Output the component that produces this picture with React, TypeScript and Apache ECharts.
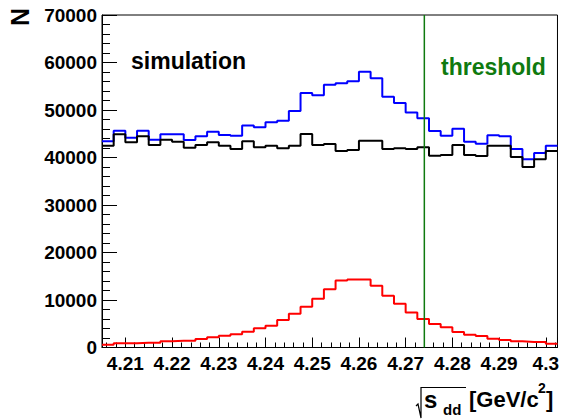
import React, { useEffect, useRef } from "react";
import * as echarts from "echarts";

// Histogram binning (39 bins of 0.0025 GeV/c^2 from 4.205)
const X_MIN = 4.205;
const X_MAX = 4.3025;
const BIN_WIDTH = 0.0025;
const THRESHOLD = 4.274;

const yTicks = [0, 10000, 20000, 30000, 40000, 50000, 60000, 70000];

const blueCounts = [
  43400, 45640, 44160, 45640, 43740, 44880, 44880, 43680, 44460, 45430,
  44730, 44580, 46730, 46350, 47410, 47740, 49780, 53570, 53090, 55320,
  55610, 56040, 58060, 56670, 52790, 51470, 49470, 48250, 45570, 44580,
  46060, 43320, 42900, 44670, 44460, 41780, 39620, 40940, 42480,
];

const blackCounts = [
  42480, 44880, 43190, 44460, 42630, 43740, 43320, 42060, 42630, 43190,
  42480, 41780, 43400, 42140, 42480, 41930, 42480, 44940, 42630, 42840,
  41360, 41570, 43530, 43530, 41780, 41930, 41780, 42140, 40370, 40520,
  42630, 40520, 40310, 42480, 42480, 40100, 37990, 39620, 41360,
];

const redCounts = [
  560, 880, 880, 1010, 1010, 1300, 1430, 1430, 1790, 2150,
  2490, 2780, 3300, 4040, 4590, 5790, 7120, 8590, 10270, 12250,
  14120, 14300, 14300, 12980, 10900, 9200, 7350, 6000, 4950, 4250,
  3260, 2700, 2420, 1850, 1580, 1300, 1160, 1160, 800,
];

function stepPoints(counts: number[]): [number, number][] {
  const pts: [number, number][] = [];
  counts.forEach((c, i) => {
    const lo = X_MIN + i * BIN_WIDTH;
    const hi = X_MIN + (i + 1) * BIN_WIDTH;
    pts.push([lo, c]);
    pts.push([hi, c]);
  });
  return pts;
}

const FONT = "'Liberation Sans', Arial, Helvetica, sans-serif";
const GREEN = "#0f7a0f";

export default function App() {
  const ref = useRef<HTMLDivElement>(null);
  useEffect(() => {
    if (!ref.current) return;
    const chart = echarts.init(ref.current, undefined, { renderer: "svg" });
    const lineSeries = (name: string, counts: number[], color: string) => ({
      name,
      type: "line",
      data: stepPoints(counts),
      showSymbol: false,
      symbol: "none",
      lineStyle: { color, width: 2 },
      itemStyle: { color },
      z: 3,
    });
    chart.setOption({
      animation: false,
      backgroundColor: "#ffffff",
      grid: {
        left: 102,
        right: 3,
        top: 15,
        bottom: 71.5,
        show: true,
        borderColor: "#000",
        borderWidth: 1,
        backgroundColor: "transparent",
      },
      xAxis: {
        type: "value",
        min: X_MIN,
        max: X_MAX,
        splitNumber: 10,
        axisLine: { show: true, lineStyle: { color: "#000", width: 1 } },
        axisTick: { show: true, inside: true, length: 10, lineStyle: { color: "#000" } },
        minorTick: { show: true, splitNumber: 5, length: 5, lineStyle: { color: "#000" } },
        splitLine: { show: false },
        axisLabel: {
          showMinLabel: false,
          showMaxLabel: false,
          margin: 6,
          color: "#000",
          fontFamily: FONT,
          fontWeight: "bold",
          fontSize: 19,
          formatter: (v: number) => String(Math.round(v * 100) / 100),
        },
      },
      yAxis: {
        type: "value",
        min: yTicks[0],
        max: yTicks[yTicks.length - 1],
        interval: yTicks[1] - yTicks[0],
        axisLine: { show: true, lineStyle: { color: "#000", width: 1 } },
        axisTick: { show: true, inside: true, length: 15, lineStyle: { color: "#000" } },
        minorTick: { show: true, splitNumber: 5, length: 8, lineStyle: { color: "#000" } },
        splitLine: { show: false },
        axisLabel: {
          margin: 5,
          color: "#000",
          fontFamily: FONT,
          fontWeight: "bold",
          fontSize: 19,
          formatter: (v: number) => String(v),
        },
      },
      series: [
        lineSeries("no cut", blueCounts, "#0000ff"),
        lineSeries("cut", blackCounts, "#000000"),
        lineSeries("signal", redCounts, "#ff0000"),
        {
          name: "threshold",
          type: "line",
          data: [
            [THRESHOLD, yTicks[0]],
            [THRESHOLD, yTicks[yTicks.length - 1]],
          ],
          showSymbol: false,
          symbol: "none",
          lineStyle: { color: GREEN, width: 1.5 },
          z: 4,
        },
      ],
      graphic: [
        {
          type: "text",
          x: 20,
          y: 17,
          rotation: Math.PI / 2,
          style: {
            text: "N",
            fill: "#000",
            font: `bold 25px ${FONT}`,
            align: "center",
            verticalAlign: "middle",
          },
        },
        {
          type: "text",
          x: 131,
          y: 61,
          style: {
            text: "simulation",
            fill: "#000",
            font: `bold 23px ${FONT}`,
            align: "left",
            verticalAlign: "middle",
          },
        },
        {
          type: "text",
          x: 441,
          y: 67,
          style: {
            text: "threshold",
            fill: GREEN,
            font: `bold 23px ${FONT}`,
            align: "left",
            verticalAlign: "middle",
          },
        },
        // x-axis title: sqrt(s_dd) [GeV/c^2]
        {
          type: "polyline",
          shape: {
            points: [
              [416, 406],
              [418, 404],
              [421, 418],
              [421, 387.5],
              [466, 387.5],
            ],
          },
          style: { stroke: "#000", lineWidth: 1.2, fill: null },
        },
        {
          type: "text",
          x: 424,
          y: 399,
          style: { text: "s", fill: "#000", font: `bold 24px ${FONT}`, align: "left", verticalAlign: "middle" },
        },
        {
          type: "text",
          x: 443,
          y: 409,
          style: { text: "dd", fill: "#000", font: `bold 15px ${FONT}`, align: "left", verticalAlign: "middle" },
        },
        {
          type: "text",
          x: 469,
          y: 399,
          style: { text: "[GeV/c", fill: "#000", font: `bold 22px ${FONT}`, align: "left", verticalAlign: "middle" },
        },
        {
          type: "text",
          x: 538,
          y: 388,
          style: { text: "2", fill: "#000", font: `bold 14px ${FONT}`, align: "left", verticalAlign: "middle" },
        },
        {
          type: "text",
          x: 546,
          y: 399,
          style: { text: "]", fill: "#000", font: `bold 22px ${FONT}`, align: "left", verticalAlign: "middle" },
        },
      ],
    });
    return () => chart.dispose();
  }, []);
  return (
    <div
      ref={ref}
      style={{ position: "fixed", left: 0, top: 0, width: 562, height: 419, background: "#fff" }}
    />
  );
}
